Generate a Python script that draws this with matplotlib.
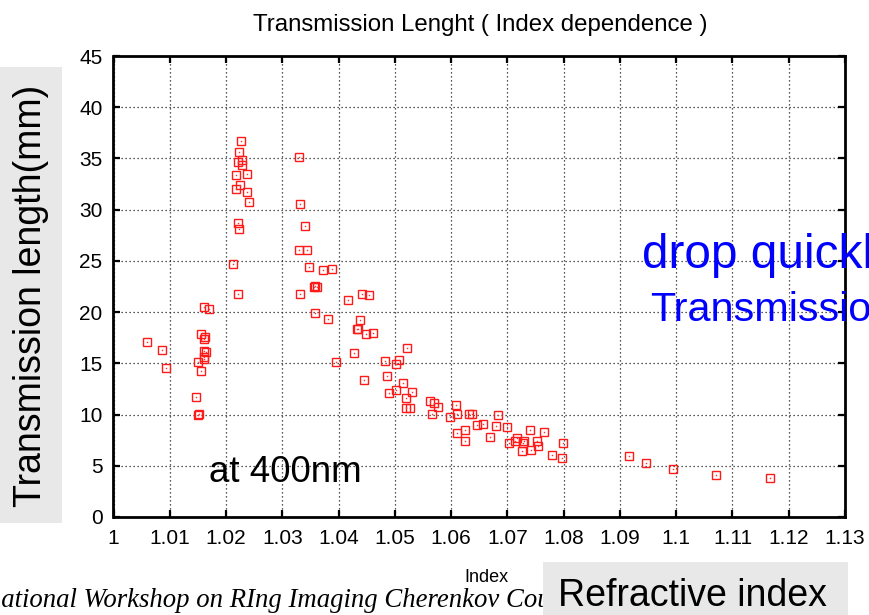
import matplotlib
matplotlib.use("Agg")
import matplotlib.pyplot as plt
from matplotlib import font_manager
from matplotlib.patches import Rectangle
from matplotlib.ticker import FixedLocator, FuncFormatter

# refractive index of each aerogel sample and its transmission length (mm) at 400 nm
index = [
    1.0060, 1.0087, 1.0093, 1.0146, 1.0150, 1.0152, 1.0150, 1.0156, 1.0156, 1.0163,
    1.0161, 1.0161, 1.0164, 1.0160, 1.0161, 1.0161, 1.0169,
    1.0226, 1.0223, 1.0222, 1.0229, 1.0228, 1.0218, 1.0238, 1.0225, 1.0218, 1.0237,
    1.0240, 1.0222, 1.0223, 1.0212, 1.0222,
    1.0330, 1.0331, 1.0340, 1.0329, 1.0344, 1.0348, 1.0372, 1.0389, 1.0356, 1.0358,
    1.0361, 1.0331, 1.0417, 1.0441, 1.0454, 1.0358, 1.0382, 1.0438, 1.0433, 1.0435,
    1.0448, 1.0462, 1.0396, 1.0427, 1.0445,
    1.0521, 1.0483, 1.0508, 1.0502, 1.0486, 1.0514, 1.0502, 1.0490, 1.0531, 1.0520,
    1.0519, 1.0527, 1.0562, 1.0569, 1.0577, 1.0566, 1.0608, 1.0611, 1.0598, 1.0632,
    1.0638, 1.0683, 1.0611, 1.0625, 1.0625, 1.0646, 1.0657, 1.0679, 1.0700, 1.0669,
    1.0741, 1.0765, 1.0702, 1.0713, 1.0717, 1.0729, 1.0728, 1.0752, 1.0755, 1.0726,
    1.0742, 1.0779, 1.0798, 1.0797, 1.0916, 1.0946, 1.0995, 1.1071, 1.1167,
]
trans_length = [
    17.1, 16.3, 14.5, 11.7, 10.0, 10.1, 15.1, 14.3, 17.9, 17.6,
    17.4, 16.2, 16.1, 15.6, 15.4, 20.5, 20.3,
    36.7, 35.6, 34.7, 34.8, 34.4, 33.4, 33.5, 32.4, 32.0, 31.7,
    30.7, 28.7, 28.1, 24.7, 21.8,
    35.1, 30.6, 28.4, 26.1, 26.1, 24.4, 24.15, 24.2, 22.5, 22.55,
    22.5, 21.8, 21.2, 21.8, 21.7, 19.95, 19.3, 19.2, 18.35, 18.4,
    17.85, 18.0, 15.1, 16.0, 13.4,
    16.5, 15.2, 15.3, 14.95, 13.8, 13.05, 12.4, 12.15, 12.25, 11.6,
    10.6, 10.6, 11.35, 11.1, 10.75, 10.1, 10.9, 10.1, 9.8, 10.1,
    10.1, 9.95, 8.2, 8.5, 7.4, 9.0, 9.1, 8.9, 8.8, 7.8,
    8.5, 8.25, 7.25, 7.4, 7.75, 7.4, 7.2, 7.4, 6.9, 6.4,
    6.5, 6.1, 7.2, 5.8, 5.95, 5.25, 4.7, 4.07, 3.84,
]

x_ticks = [1.00, 1.01, 1.02, 1.03, 1.04, 1.05, 1.06, 1.07, 1.08, 1.09,
           1.10, 1.11, 1.12, 1.13]
y_ticks = [0, 5, 10, 15, 20, 25, 30, 35, 40, 45]

title = "Transmission Lenght ( Index dependence )"
x_label = "Index"
y_label = "Transmission length(mm)"
note = "at 400nm"
comment_lines = ["drop quickly", "Transmission"]
footer = "International Workshop on RIng Imaging Cherenkov Counters"
footer_hidden = "Intern"
box_label = "Refractive index"

available = {f.name for f in font_manager.fontManager.ttflist}
SANS = "Liberation Sans" if "Liberation Sans" in available else "DejaVu Sans"
SERIF = "Liberation Serif" if "Liberation Serif" in available else "DejaVu Serif"

W, H = 870, 615
fig = plt.figure(figsize=(W / 100, H / 100), dpi=100)


def fx(px):
    return px / W


def fy(py):
    return 1 - py / H


left, right, bottom, top = 113.5, 845, 517, 56
ax = fig.add_axes([fx(left), fy(bottom), (right - left) / W, (bottom - top) / H])

ax.plot(index, trans_length, linestyle="none", marker="s", markersize=6.2,
        markerfacecolor="none", markeredgecolor="#ff1a1a", markeredgewidth=1.0,
        zorder=3)
ax.plot(index, trans_length, linestyle="none", marker="s", markersize=1,
        markerfacecolor="#ff3030", markeredgecolor="none", zorder=3)

ax.set_xlim(1.0, 1.13)
ax.set_ylim(0, 45)
ax.xaxis.set_major_locator(FixedLocator(x_ticks))
ax.yaxis.set_major_locator(FixedLocator(y_ticks))
ax.xaxis.set_major_formatter(FuncFormatter(lambda v, p: f"{v:.2f}".rstrip("0").rstrip(".")))
ax.yaxis.set_major_formatter(FuncFormatter(lambda v, p: f"{v:g}"))

ax.grid(True, color="#222222", linestyle=(0, (1, 2.2)), linewidth=0.9, zorder=1)
ax.set_axisbelow(True)
ax.tick_params(direction="in", top=True, right=True, length=5, width=1.6,
               labelsize=15, colors="black")
ax.tick_params(axis="x", pad=9)
ax.tick_params(axis="y", pad=8)
for lab in ax.get_xticklabels() + ax.get_yticklabels():
    lab.set_fontfamily(SANS)
for sp in ax.spines.values():
    sp.set_linewidth(2.0)

fig.text(fx(480), fy(31), title, ha="center", va="baseline", fontsize=17.3, family=SANS)
fig.text(fx(486), fy(578), x_label, ha="center", va="center", fontsize=13, family=SANS)

# grey panel behind the vertical axis title
fig.patches.append(Rectangle((0, fy(523)), fx(62), (523 - 67) / H,
                             transform=fig.transFigure, facecolor="#e8e8e8",
                             edgecolor="none", zorder=0))
fig.text(fx(31), fy(296), y_label, rotation=90, ha="center", va="center",
         fontsize=27, family=SANS)

fig.text(fx(209), fy(482), note, ha="left", va="baseline", fontsize=26.5,
         family=SANS, zorder=5)

fig.text(fx(642), fy(268), comment_lines[0], ha="left", va="baseline",
         fontsize=34.4, family=SANS, color="#0000ff", zorder=6)
fig.text(fx(650), fy(321), comment_lines[1], ha="left", va="baseline",
         fontsize=29.8, family=SANS, color="#0000ff", zorder=6)

# conference footer, running off the left edge of the page
footer_size = 19.3
renderer = fig.canvas.get_renderer()
probe = fig.text(0, 0, footer_hidden, fontsize=footer_size, family=SERIF, style="italic")
hidden_w = probe.get_window_extent(renderer).width
probe.remove()
fig.text(fx(1 - hidden_w), fy(607), footer, ha="left", va="baseline",
         fontsize=footer_size, family=SERIF, style="italic", zorder=5)

# grey caption box in the lower right
fig.patches.append(Rectangle((fx(543), 0), fx(848 - 543), fy(562),
                             transform=fig.transFigure, facecolor="#e8e8e8",
                             edgecolor="none", zorder=7))
fig.text(fx(692), fy(596), box_label, ha="center", va="center", fontsize=27,
         family=SANS, zorder=8)

fig.savefig("out.png", dpi=100)
